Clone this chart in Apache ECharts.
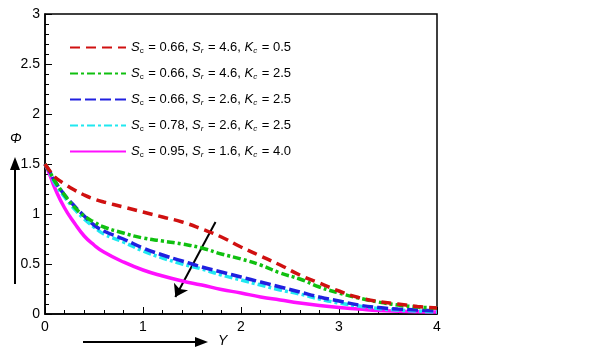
<!DOCTYPE html>
<html>
<head>
<meta charset="utf-8">
<script src="https://cdn.jsdelivr.net/npm/echarts@6/dist/echarts.min.js"></script>
<style>
  html, body { margin: 0; padding: 0; background: #fff; }
  #chart { width: 602px; height: 351px; }
</style>
</head>
<body>
<div id="chart"></div>
<script>
// Y positions shared by all curves
const yValues = [0, 0.05, 0.1, 0.2, 0.3, 0.4, 0.5, 0.6, 0.8, 1.0, 1.2, 1.4, 1.6, 1.8, 2.0, 2.2, 2.4, 2.6, 2.8, 3.0, 3.2, 3.4, 3.6, 3.8, 4.0];

// Phi for each parameter set
const phiRed     = [1.5, 1.43, 1.37, 1.30, 1.24, 1.19, 1.15, 1.12, 1.07, 1.02, 0.97, 0.92, 0.85, 0.77, 0.67, 0.58, 0.49, 0.39, 0.31, 0.23, 0.165, 0.125, 0.10, 0.075, 0.06];
const phiGreen   = [1.5, 1.42, 1.33, 1.19, 1.07, 0.98, 0.92, 0.87, 0.81, 0.76, 0.73, 0.70, 0.66, 0.60, 0.55, 0.49, 0.41, 0.35, 0.27, 0.21, 0.16, 0.12, 0.09, 0.07, 0.06];
const phiBlue    = [1.5, 1.42, 1.33, 1.19, 1.08, 0.98, 0.89, 0.83, 0.75, 0.66, 0.59, 0.53, 0.47, 0.42, 0.37, 0.32, 0.27, 0.22, 0.17, 0.13, 0.09, 0.065, 0.05, 0.04, 0.03];
const phiCyan    = [1.5, 1.41, 1.31, 1.17, 1.05, 0.95, 0.87, 0.80, 0.72, 0.63, 0.56, 0.50, 0.45, 0.39, 0.34, 0.29, 0.24, 0.20, 0.15, 0.11, 0.08, 0.055, 0.04, 0.03, 0.02];
const phiMagenta = [1.5, 1.39, 1.26, 1.06, 0.91, 0.78, 0.69, 0.62, 0.52, 0.44, 0.38, 0.33, 0.29, 0.245, 0.21, 0.17, 0.14, 0.11, 0.085, 0.065, 0.05, 0.035, 0.027, 0.022, 0.02];

// legend parameters
const scVals = ['0.66', '0.66', '0.66', '0.78', '0.95'];
const srVals = ['4.6', '4.6', '2.6', '2.6', '1.6'];
const kcVals = ['0.5', '2.5', '2.5', '2.5', '4.0'];

const xTicks = [0, 1, 2, 3, 4];
const yTicks = [0, 0.5, 1, 1.5, 2, 2.5, 3];

const phiSets = [phiRed, phiGreen, phiBlue, phiCyan, phiMagenta];
const colors = ['#d01010', '#10c010', '#2020e0', '#20e8f0', '#ff10ff'];
const dashes = [[10, 6], [8, 3, 3, 3], [11, 4], [8, 3, 3, 3], 'solid'];

const names = scVals.map((sc, i) => 'Sc = ' + sc + ', Sr = ' + srVals[i] + ', Kc = ' + kcVals[i]);

const series = phiSets.map((phi, i) => ({
    name: names[i],
    type: 'line',
    smooth: true,
    symbol: 'none',
    data: yValues.map((y, k) => [y, phi[k]]),
    lineStyle: { color: colors[i], width: 3.5, type: dashes[i] },
    itemStyle: { color: colors[i] },
    z: 10 - i
}));

// direction arrow inside the plot
series.push({
    type: 'line',
    data: [],
    markLine: {
        silent: true,
        symbol: ['none', 'arrow'],
        symbolSize: 12,
        label: { show: false },
        lineStyle: { color: '#000', width: 2, type: 'solid' },
        data: [[{ coord: [1.74, 0.92] }, { coord: [1.33, 0.17] }]]
    }
});

const font = '"Liberation Sans", Arial, sans-serif';

let chart = echarts.init(document.getElementById('chart'));
chart.setOption({
    animation: false,
    textStyle: { fontFamily: font },
    grid: {
        left: 45, right: 165, top: 14, bottom: 37,
        show: true, borderColor: '#000', borderWidth: 1.5
    },
    legend: {
        orient: 'vertical',
        left: 64, top: 36,
        itemWidth: 56, itemHeight: 12, itemGap: 12.5,
        itemStyle: { opacity: 0 },
        data: names,
        formatter: function (name) {
            let i = names.indexOf(name);
            return '{s|S}{sub|c} = ' + scVals[i] + ', {s|S}{subi|r} = ' + srVals[i] + ', {s|K}{subi|c} = ' + kcVals[i];
        },
        textStyle: {
            fontFamily: font, fontSize: 13, color: '#000',
            rich: {
                s: { fontStyle: 'italic', fontSize: 13, fontFamily: font },
                sub: { fontSize: 8, fontFamily: font, verticalAlign: 'bottom', padding: [6, 1, 0, 0] },
                subi: { fontSize: 8, fontStyle: 'italic', fontFamily: font, verticalAlign: 'bottom', padding: [6, 1, 0, 0] }
            }
        }
    },
    xAxis: {
        type: 'value', min: 0, max: 4, interval: 1,
        axisLine: { lineStyle: { color: '#000', width: 1.5 } },
        axisTick: { inside: true, length: 7, lineStyle: { color: '#000' } },
        minorTick: { show: true, splitNumber: 5, length: 4, lineStyle: { color: '#000' } },
        splitLine: { show: false },
        axisLabel: {
            color: '#000', fontSize: 14, margin: 6, fontFamily: font,
            formatter: v => xTicks.includes(v) ? String(v) : ''
        }
    },
    yAxis: {
        type: 'value', min: 0, max: 3, interval: 0.5,
        axisLine: { show: true, lineStyle: { color: '#000', width: 1.5 } },
        axisTick: { show: true, inside: true, length: 7, lineStyle: { color: '#000' } },
        minorTick: { show: true, splitNumber: 5, length: 4, lineStyle: { color: '#000' } },
        splitLine: { show: false },
        axisLabel: {
            color: '#000', fontSize: 14, margin: 5, fontFamily: font,
            formatter: v => yTicks.includes(v) ? String(v) : ''
        }
    },
    graphic: [
        // vertical arrow beside the Phi axis
        { type: 'line', shape: { x1: 15, y1: 284, x2: 15, y2: 168 }, style: { stroke: '#000', lineWidth: 2 } },
        { type: 'polygon', shape: { points: [[15, 157], [10, 170], [20, 170]] }, style: { fill: '#000' } },
        { type: 'text', left: 10, top: 132, style: { text: 'Φ', font: 'italic 14px ' + font, fill: '#000' } },
        // horizontal arrow under the Y axis
        { type: 'line', shape: { x1: 83, y1: 342, x2: 196, y2: 342 }, style: { stroke: '#000', lineWidth: 2 } },
        { type: 'polygon', shape: { points: [[208, 342], [195, 337], [195, 347]] }, style: { fill: '#000' } },
        { type: 'text', left: 218, top: 334, style: { text: 'Y', font: 'italic 14px ' + font, fill: '#000' } }
    ],
    series: series
});
</script>
</body>
</html>
